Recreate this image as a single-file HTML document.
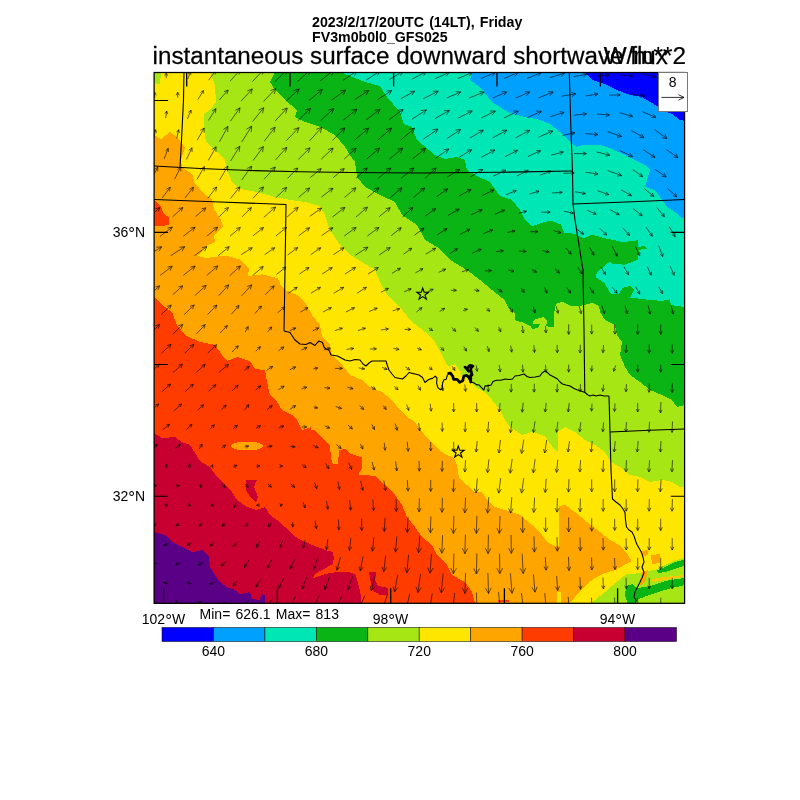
<!DOCTYPE html>
<html><head><meta charset="utf-8"><title>instantaneous surface downward shortwave flux</title>
<style>
html,body{margin:0;padding:0;background:#fff}
body{width:800px;height:800px;position:relative;overflow:hidden;font-family:"Liberation Sans",Arial,Helvetica,sans-serif;color:#000}
.t{position:absolute;white-space:nowrap;font-size:13.3px;line-height:1.15}
.b{font-weight:bold}
.c{transform:translateX(-50%)}
.r{text-align:right}
</style></head><body>
<svg width="800" height="800" viewBox="0 0 800 800" style="position:absolute;left:0;top:0">
<defs><clipPath id="fr"><rect x="154.1" y="72.5" width="530.5" height="530.8"/></clipPath></defs>
<g clip-path="url(#fr)" shape-rendering="crispEdges">
<rect x="154.1" y="72.5" width="530.5" height="530.8" fill="#0000ff"/>
<polygon fill="#00a0ff" points="584,40 584,72 592,80 607,85 617,90 630,95 642,97 650,102 659,107 665,111 672,114 680,120 685,121 720,122 720,640 120,640 120,40"/>
<polygon fill="#00e6b4" points="472,40 472,72 470,80 480,87 492,102 500,107 510,113 525,117 540,120 550,124 560,132 570,142 577,147 582,145 600,145 612,149 625,155 635,160 645,165 650,170 647,180 645,187 655,190 660,197 667,207 675,212 680,217 685,219 720,220 720,640 120,640 120,40"/>
<polygon fill="#0ab414" points="338,40 340,72 350,76 365,82 380,86 387,97 400,112 404,124 412,127 417,140 435,155 445,159 457,157 465,160 467,170 475,175 490,182 500,196 512,200 520,210 525,220 532,226 540,223.4 551,220.6 560.6,224.4 564.4,232.8 575.6,233.8 583,238.4 592.5,234.7 605.6,238.4 615,240.3 622.5,242.2 637.5,240.3 638.4,246.9 645,246 647,248.8 639.4,249.7 637.5,260 624.4,264.7 613,263.8 609.4,261.9 603.8,266.6 598,271.2 595.3,277 604,282.5 611,294 619,294 622.5,288 630,286 634,290 630,297.5 645,299.4 662,301 669.5,299.4 671,305 684.5,307 720,306 720,640 120,640 120,40"/>
<polygon fill="#a5e614" points="275,40 275,72 270,82 275,90 285,100 297,110 295,117 305,122 320,127 335,135 345,147 350,155 355,162 357,177 365,187 380,195 395,202 402,215 417,225 425,240 437,247 445,255 450,260 462,267 467,270 480,280 492,290 504.4,300 508,307.5 514.7,313 515.6,320.6 523,322.5 530.6,326.2 532.5,329 538,328 540,324.4 532.5,323.4 534.4,319.7 543.7,316.9 547.5,320.6 545.6,326.2 554,327.2 554,313 556,303.7 562.5,301.9 570,305.6 581.2,305.6 592.5,302.8 599,306 600,312 605,320 615,325 617,335 622,342 620,355 625,367 630,375 640,382 650,390 662,395 672,400 677,407 685,405 720,405 720,640 120,640 120,40"/>
<polygon fill="#ffe600" points="210,40 210,72 215,85 216,102 210,110 204,114 204,130 206,142 217,152 225,160 227,170 232,182 240,189 257,192 275,197 290,200 305,202 320,206 325,215 330,230 340,245 350,255 362,262 375,270 380,282 387,295 400,307 410,320 425,332 435,342 442,355 447,365 455,370 462,375 470,380 475,387 485,392 492,400 500,410 505,420 510,427 522,435 532,432 545,436 549,442 555,450 558,453 558.5,431 565,427 575,432 585,440 595,445 605,452 611,462 620,467 630,475 640,477 650,482 662,480 672,482 680,487 685,486 720,486 720,640 120,640 120,40"/>
<polygon fill="#ffa500" points="120,134 154,135 161,139 170,132 178,138 185,148 181,160 182,167 193,175 194,182 204,194 212,199 214,209 221,220 223,227 214,235 215,242 206,246 198,256 206,258 225,255.6 240,259.4 249.4,268.7 247.5,276 262.5,274.4 277.5,278 281,285.6 285,290 297,295 305,302 312,315 320,325 322,337 330,345 332,355 340,362 350,375 362,380 370,387 382,392 392,400 400,410 407,417 415,422 420,429 428,439 438,449 445,454 454,458 457,465 459,478 467,485 475,492 482,492 487,500 495,507 505,510 520,515 532,525 540,532 547,542 555,546 558.5,546 558.5,506 565,505 575,512 587,522 600,532 610,540 621,546 628,555 632,562 626,565 616,571 605,574 595,579 586,586 577,595 570,603 550,640 120,640"/>
<polygon fill="#ff3c00" points="120,297 154,297 162,305 172,312 177,325 185,335 200,342 215,345 222,355 227,361 237,357 250,361 255,369 265,370 267,382 270,395 277,402 282,410 292,415 297,420 302,430 312,427 320,436 330,446 331,458 333,464 337.5,464 339.4,450 345,449 350.6,453.7 362,457.5 362,468.7 358,474.4 375,476 385,485 395,495 402,505 407,517 415,527 422,537 432,545 437,555 447,565 452,575 465,582 472,592 475,603 476,640 120,640"/>
<polygon fill="#c80032" points="120,432 154,433 162,438 175,437 182,442 190,445 195,453 200,461 210,467 217,477 225,485 232,492 237,500 247,507 257,510 265,507 270,515 277,520 285,527 294,536 303,541 315,546 325.5,550 332.5,552 334,558.5 332.5,564 324,569 315,574 313,578 325.5,574 339.5,571.6 350,572.5 355,574 357,579.5 359,586.5 360.5,593.5 361.5,602 362,640 120,640"/>
<polygon fill="#5a0087" points="120,532 154,532 165,535 172,542 182,547 192,552 202,550 209,557 210,567 215,575 220,582 227,587 235,590 240,594 250,592 252,599 260,600 261,594 265,595 265,603 265,640 120,640"/>
<polygon fill="#ff3c00" points="140,200 154,200 160,205 164,214 169,217 169,225 160,226 140,226"/>
<ellipse cx="247" cy="446" rx="16" ry="4.5" fill="#ffa500"/>
<rect x="311" y="424" width="6" height="6" fill="#ffa500"/>
<polygon fill="#c80032" points="246,480 257,480 254,487 258,497 256,503 250,497 246,490"/>
<polygon fill="#c80032" points="369,572 376,572 375,580 378,586 388,588 388,595 380,595 372,590"/>
<polygon fill="#a5e614" points="153,72 161,72 160,84 156,84 154,78"/>
<polygon fill="#ffe600" points="570,604 577,594 586,585 595,578 605,573 616,570 626,564 632,561 640,563 640,604"/>
<polygon fill="#a5e614" points="590,604 605,592 618,581 626.5,574 633.5,574 644,572 656,569.5 665,565 675.5,560.5 690,556 690,604"/>
<polygon fill="#0ab414" points="626,586 632,584 637,588 651,586 665,581 690,577 690,584 672,588 658,592 644,597 637,600 636,604 628,604 625,596"/>
<polygon fill="#0ab414" points="656,571 665,567 675,562 690,558 690,564 674,569 665,572 658,573"/>
<polygon fill="#ffa500" points="641,551 648,550 648,555 644,556"/>
<polygon fill="#ffa500" points="651,555 660,554 660,563 652,564"/>
<polygon fill="#ffa500" points="642,572 648,570 646,580 641,586 639,584"/>
<polygon fill="#ffc800" points="652,579 665,577 683,575 683,577 665,580 653,582"/>
<polygon fill="#ffe600" points="450,366 455,364 461,372 458,375 452,372"/>
<rect x="498" y="600" width="11" height="2" fill="#ff3c00"/>
<rect x="557" y="592" width="4" height="12" fill="#ffe600"/>

</g>
<g clip-path="url(#fr)" fill="none" stroke="#000" stroke-width="1.1" stroke-linejoin="round">
<path d="M184.2 60L183.5 100L181.5 140L180 167.5"/>
<path d="M140 165.5L154 166L200 168.5L250 170.5L300 171.7L350 172.5L420 173L500 172.3L572.5 171"/>
<path d="M140 199L154 199.5L220 202L286 204.5L285.5 240L285 270L284 331"/>
<path d="M284 331L290 332.5L293 337L295 340L300 344L306 344.5L310 342.5L315 345.5L317 343L319 341L322.5 342.5L324 347L326 349L329 350L331 355L337.5 356L345 360L350 361L355 359.5L360 360L363 364L366 366L369 363L372 361L386 361L387.5 366L389 370L392 374L395 377.5L402.5 379L406 376L409 372.5L415 374L419 375L422.5 377.5L425 382.5L428 380L430 378.9L432.6 378.4L435.2 376.2L437 378L436.6 383.2L437.9 387.6L440.5 389.8L442.2 388.5L442.7 382.4L444 379.7L446.2 379.3L447.5 374.5"/>
<path d="M470.7 382L473.7 382.8L476.4 384.6L479 385L481.6 387.6L483.8 390.2L485.1 385.9L487.7 385.9L491.2 385L493 381.5L496.5 380.2L501 380.2L505 379L509 379.5L512.5 379L515 376L519 375.5L524 374L527 376.5L530 377.5L535 377L540 376L542 373L545 371L548 373L550 375L554 377L557.5 379L560 382L562.5 384L566 385L570 386L574 388.5L577.5 390L581 391L585 392.5L588 395L590 396L593 395L596 396L600 395L604 396L609 396"/>
<path stroke-width="2.8" d="M447.5 373.6L450.6 373.2L452.7 376.2L453.6 379.3L457.1 379.3L459.7 382.4L462.8 380.6L463.7 376.2L466.7 375.4L468.5 377.1L470.2 379.7L470.7 382L470.7 375.4L472 374.9L471.1 371L468.5 371L466.7 368.8L465 367.1L467.2 368.4L469.8 365.3L472.9 366.2L471.1 367.5L470.7 370.6"/>
<path d="M569 60L569.3 72L571 132L572.5 171L573 204L575 220L579 245L583 270L584 330L584.8 392.5"/>
<path d="M573 204L620 202.3L685 199.5L700 199"/>
<path d="M609 396L610 432L611 470L612.5 499L616 502L620 505L623 509L625 512.5L625.5 520L626.5 527L629 530L632 532L634 536L635 539L636 542L637 544.5L639 548L641 551.5L642 554L643 557L644 562L642 567L644 572.5L642 578L639.6 583L637 588L635 592L634 597L636 600L635.5 603L636 610"/>
<path d="M610 432L650 430.3L685 429L700 428.7"/>
<path stroke-width="1.15" stroke-linejoin="miter" d="M422.7 288.1L424.1 292.2L428.5 292.3L425.0 295.0L426.3 299.1L422.7 296.6L419.1 299.1L420.4 295.0L416.9 292.3L421.3 292.2Z"/>
<path stroke-width="1.15" stroke-linejoin="miter" d="M458.3 446.1L459.7 450.2L464.1 450.3L460.6 453.0L461.9 457.1L458.3 454.6L454.7 457.1L456.0 453.0L452.5 450.3L456.9 450.2Z"/>

</g>
<g clip-path="url(#fr)"><path d="M166.2 78.2L166.2 72.7M164.7 75.7L166.2 72.7L167.7 75.7M187.8 79.1L190.6 71.8M188.1 74.1L190.6 71.8L190.9 75.2M208.6 80.2L215.8 70.7M212.4 72.4L215.8 70.7L215.1 74.5M230.2 81.0L240.2 69.9M235.7 71.6L240.2 69.9L239.0 74.5M252.3 81.7L264.1 69.2M258.9 71.1L264.1 69.2L262.5 74.5M274.9 81.7L287.5 69.2M282.1 71.0L287.5 69.2L285.7 74.6M297.6 81.3L310.8 69.7M305.4 71.1L310.8 69.7L308.7 74.9M320.3 80.7L334.1 70.2M328.6 71.2L334.1 70.2L331.7 75.2M343.2 80.2L357.2 70.7M351.8 71.4L357.2 70.7L354.6 75.5M366.2 80.0L380.2 71.0M374.9 71.5L380.2 71.0L377.5 75.6M389.2 79.6L403.2 71.3M398.0 71.7L403.2 71.3L400.4 75.7M411.9 79.2L426.4 71.7M421.2 71.8L426.4 71.7L423.4 76.0M434.9 78.8L449.4 72.1M444.3 71.9L449.4 72.1L446.3 76.1M457.9 78.5L472.4 72.5M467.4 72.1L472.4 72.5L469.2 76.3M480.9 78.5L495.4 72.5M490.4 72.1L495.4 72.5L492.2 76.3M504.2 78.5L518.2 72.5M513.3 72.1L518.2 72.5L515.1 76.2M527.0 78.5L541.5 72.5M536.4 72.1L541.5 72.5L538.2 76.3M550.0 77.6L564.5 73.3M559.7 72.5L564.5 73.3L560.9 76.7M573.6 76.6L586.8 74.3M582.7 73.1L586.8 74.3L583.4 76.9M597.3 76.0L609.1 75.0M605.6 73.5L609.1 75.0L605.9 77.0M620.0 75.0L632.5 76.0M629.0 73.9L632.5 76.0L628.7 77.5M642.2 74.0L656.2 77.0M652.6 74.1L656.2 77.0L651.8 78.1M154.7 97.8L154.7 92.2M153.2 95.3L154.7 92.2L156.2 95.3M177.7 97.8L177.7 92.2M176.2 95.3L177.7 92.2L179.2 95.3M197.9 99.5L203.5 90.5M200.6 92.3L203.5 90.5L203.2 93.9M219.3 100.0L228.1 90.0M224.1 91.6L228.1 90.0L227.1 94.1M241.1 101.1L252.3 88.9M247.3 90.8L252.3 88.9L250.9 94.0M263.6 101.4L275.8 88.6M270.5 90.5L275.8 88.6L274.2 94.0M286.2 101.1L299.2 88.9M293.7 90.5L299.2 88.9L297.3 94.3M308.9 100.5L322.4 89.5M317.0 90.7L322.4 89.5L320.2 94.6M331.7 100.0L345.7 90.0M340.3 90.8L345.7 90.0L343.2 94.9M354.7 99.5L368.7 90.5M363.4 91.0L368.7 90.5L366.0 95.1M377.7 99.5L391.7 90.5M386.4 91.0L391.7 90.5L389.0 95.1M400.7 98.8L414.7 91.2M409.6 91.4L414.7 91.2L411.8 95.4M423.2 98.8L438.2 91.2M432.8 91.2L438.2 91.2L435.0 95.6M446.7 98.0L460.7 92.0M455.8 91.7L460.7 92.0L457.6 95.7M469.2 98.0L484.2 92.0M479.1 91.5L484.2 92.0L480.8 95.9M492.7 98.0L506.7 92.0M501.8 91.7L506.7 92.0L503.6 95.7M515.7 98.0L529.7 92.0M524.8 91.7L529.7 92.0L526.6 95.7M538.2 98.0L553.2 92.0M548.1 91.5L553.2 92.0L549.8 95.9M561.7 96.2L575.7 93.8M571.3 92.4L575.7 93.8L572.1 96.5M585.5 96.0L598.0 94.0M594.1 92.8L598.0 94.0L594.7 96.4M609.2 95.0L620.2 95.0M617.1 93.4L620.2 95.0L617.1 96.6M630.7 94.0L644.7 96.0M641.0 93.4L644.7 96.0L640.4 97.5M165.7 118.1L166.7 111.0M164.7 113.8L166.7 111.0L167.8 114.2M187.4 119.0L191.0 110.1M188.4 112.3L191.0 110.1L191.3 113.5M208.5 120.4L215.9 108.7M212.1 110.9L215.9 108.7L215.5 113.1M230.4 121.2L240.0 107.8M235.3 110.3L240.0 107.8L239.2 113.0M252.7 121.4L263.7 107.7M258.6 110.0L263.7 107.7L262.6 113.2M275.1 121.0L287.2 108.0M281.9 110.0L287.2 108.0L285.7 113.5M297.8 120.8L310.6 108.3M305.1 110.0L310.6 108.3L308.8 113.7M320.7 120.4L333.7 108.6M328.3 110.1L333.7 108.6L331.7 113.9M343.4 120.0L357.0 109.1M351.5 110.2L357.0 109.1L354.7 114.2M366.3 119.7L380.1 109.3M374.7 110.3L380.1 109.3L377.7 114.3M389.3 119.5L403.1 109.5M397.7 110.4L403.1 109.5L400.6 114.4M412.0 119.2L426.4 109.9M420.9 110.5L426.4 109.9L423.6 114.6M435.0 118.6L449.4 110.4M444.1 110.7L449.4 110.4L446.5 114.9M458.2 118.1L472.2 110.9M467.2 111.0L472.2 110.9L469.2 115.0M481.1 118.0L495.3 111.1M490.2 111.0L495.3 111.1L492.2 115.1M504.2 117.9L518.2 111.1M513.2 111.0L518.2 111.1L515.2 115.1M527.1 117.7L541.3 111.3M536.3 111.1L541.3 111.3L538.2 115.2M550.3 116.7L564.1 112.4M559.6 111.6L564.1 112.4L560.8 115.6M573.8 115.3L586.6 113.8M582.7 112.3L586.6 113.8L583.2 116.1M597.0 114.0L609.5 115.0M606.0 112.9L609.5 115.0L605.7 116.6M619.8 112.8L632.6 116.3M629.5 113.4L632.6 116.3L628.5 117.2M642.6 111.8L655.8 117.3M652.8 113.8L655.8 117.3L651.2 117.6M153.8 138.5L155.6 129.7M153.5 132.3L155.6 129.7L156.5 132.9M176.8 138.5L178.6 129.7M176.5 132.3L178.6 129.7L179.5 132.9M197.2 140.2L204.2 128.0M200.4 130.4L204.2 128.0L204.0 132.5M219.5 141.8L227.9 126.4M223.3 129.5L227.9 126.4L227.7 132.0M241.7 142.1L251.7 126.1M246.5 129.2L251.7 126.1L251.2 132.1M264.3 141.1L275.1 127.1M270.0 129.5L275.1 127.1L274.0 132.6M286.4 140.6L298.9 127.6M293.5 129.5L298.9 127.6L297.3 133.1M309.5 140.9L321.9 127.2M316.4 129.3L321.9 127.2L320.4 132.9M332.5 140.4L344.9 127.8M339.5 129.6L344.9 127.8L343.2 133.2M354.8 140.0L368.6 128.2M362.9 129.5L368.6 128.2L366.4 133.5M377.8 140.0L391.6 128.2M385.9 129.5L391.6 128.2L389.4 133.5M400.8 140.0L414.6 128.2M408.9 129.5L414.6 128.2L412.4 133.5M423.4 139.2L438.0 129.0M432.4 129.7L438.0 129.0L435.3 134.0M446.8 138.6L460.6 129.6M455.3 130.1L460.6 129.6L458.0 134.1M470.1 137.9L483.3 130.2M478.4 130.5L483.3 130.2L480.7 134.3M492.6 137.9L506.8 130.2M501.7 130.3L506.8 130.2L503.9 134.5M515.7 137.8L529.7 130.3M524.6 130.4L529.7 130.3L526.8 134.5M538.7 137.1L552.7 131.1M547.8 130.7L552.7 131.1L549.6 134.8M562.5 135.3L575.0 132.8M571.0 131.7L575.0 132.8L571.7 135.3M585.5 133.6L598.0 134.6M594.5 132.5L598.0 134.6L594.2 136.1M607.7 131.6L621.7 136.6M618.4 133.1L621.7 136.6L617.0 137.2M631.5 130.6L644.0 137.6M641.4 133.7L644.0 137.6L639.4 137.4M654.5 129.6L667.0 138.6M664.7 134.2L667.0 138.6L662.1 137.8M164.2 158.8L168.2 148.3M165.5 150.7L168.2 148.3L168.6 151.9M186.4 159.4L192.0 147.8M188.7 150.3L192.0 147.8L192.1 151.9M208.3 160.4L216.1 146.8M211.9 149.5L216.1 146.8L215.9 151.8M230.6 161.0L239.8 146.2M235.0 149.1L239.8 146.2L239.3 151.7M253.0 160.6L263.4 146.6M258.4 149.0L263.4 146.6L262.5 152.1M275.6 159.8L286.8 147.4M281.8 149.3L286.8 147.4L285.4 152.6M298.4 159.3L310.0 147.8M305.0 149.4L310.0 147.8L308.4 152.8M321.3 159.1L333.1 148.1M328.1 149.5L333.1 148.1L331.3 152.9M344.2 159.0L356.2 148.2M351.2 149.5L356.2 148.2L354.4 153.0M366.8 159.0L379.6 148.1M374.4 149.4L379.6 148.1L377.5 153.1M389.6 159.0L402.8 148.1M397.4 149.3L402.8 148.1L400.6 153.2M412.7 158.8L425.7 148.3M420.5 149.5L425.7 148.3L423.5 153.2M435.7 158.2L448.7 149.0M443.6 149.7L448.7 149.0L446.3 153.5M458.7 157.6L471.7 149.6M466.8 150.0L471.7 149.6L469.1 153.8M481.6 157.2L494.8 150.0M490.0 150.1L494.8 150.0L492.1 153.9M504.7 156.9L517.7 150.3M513.0 150.3L517.7 150.3L515.0 154.0M528.0 156.5L540.5 150.7M536.1 150.5L540.5 150.7L537.7 154.2M551.1 155.2L563.3 152.0M559.3 151.1L563.3 152.0L560.3 154.7M574.1 153.6L586.3 153.6M582.8 151.8L586.3 153.6L582.8 155.4M596.6 152.0L609.8 155.2M606.5 152.4L609.8 155.2L605.6 156.2M619.9 150.6L632.5 156.6M629.8 153.0L632.5 156.6L628.0 156.7M643.5 149.8L655.0 157.4M652.8 153.6L655.0 157.4L650.6 156.9M666.3 149.5L678.1 157.7M675.9 153.7L678.1 157.7L673.5 157.1M151.6 179.2L157.8 167.0M154.3 169.6L157.8 167.0L157.8 171.4M174.6 179.2L180.8 167.0M177.3 169.6L180.8 167.0L180.8 171.4M196.9 179.6L204.4 166.6M200.4 169.2L204.4 166.6L204.2 171.4M219.5 180.1L227.9 166.1M223.5 168.9L227.9 166.1L227.5 171.3M241.7 180.1L251.7 166.1M246.8 168.7L251.7 166.1L250.9 171.6M264.1 179.2L275.3 167.0M270.3 168.9L275.3 167.0L273.9 172.1M287.6 178.3L297.8 168.0M293.4 169.4L297.8 168.0L296.4 172.4M310.2 177.6L321.2 168.6M316.8 169.6L321.2 168.6L319.4 172.8M333.2 177.6L344.2 168.6M339.8 169.6L344.2 168.6L342.4 172.8M356.2 178.1L367.2 168.1M362.6 169.4L367.2 168.1L365.5 172.6M378.4 178.1L390.9 168.1M385.9 169.2L390.9 168.1L388.8 172.8M401.4 178.1L413.9 168.1M408.9 169.2L413.9 168.1L411.8 172.8M425.2 178.1L436.2 168.1M431.6 169.4L436.2 168.1L434.5 172.6M447.4 176.9L459.9 169.4M455.3 169.7L459.9 169.4L457.5 173.3M470.4 176.9L482.9 169.4M478.3 169.7L482.9 169.4L480.5 173.3M493.4 176.1L505.9 170.1M501.5 170.0L505.9 170.1L503.3 173.6M517.2 175.9L528.2 170.4M524.3 170.3L528.2 170.4L525.9 173.5M540.2 175.1L551.2 171.1M547.5 170.7L551.2 171.1L548.6 173.9M563.2 173.4L574.2 172.9M571.0 171.4L574.2 172.9L571.1 174.6M585.5 172.1L598.0 174.1M594.7 171.7L598.0 174.1L594.1 175.4M607.7 170.6L621.7 175.6M618.4 172.2L621.7 175.6L617.0 176.2M632.7 169.6L642.7 176.6M640.9 173.2L642.7 176.6L638.8 176.1M655.2 169.4L666.2 176.9M664.2 173.1L666.2 176.9L662.0 176.3M162.1 198.1L170.3 187.2M166.4 189.1L170.3 187.2L169.5 191.5M184.9 198.1L193.5 187.2M189.5 189.1L193.5 187.2L192.6 191.6M207.8 198.3L216.6 187.0M212.5 188.9L216.6 187.0L215.8 191.5M230.5 198.5L239.8 186.8M235.5 188.8L239.8 186.8L238.9 191.5M252.9 198.4L263.5 186.9M258.8 188.6L263.5 186.9L262.1 191.7M275.7 197.9L286.7 187.4M282.0 188.8L286.7 187.4L285.1 192.0M298.7 197.3L309.7 188.0M305.2 189.1L309.7 188.0L307.9 192.3M321.4 197.1L333.0 188.2M328.4 189.0L333.0 188.2L331.0 192.4M344.5 197.5L355.9 187.8M351.3 188.9L355.9 187.8L354.1 192.2M367.4 197.5L378.9 187.8M374.3 188.9L378.9 187.8L377.1 192.2M390.4 197.5L402.0 187.8M397.3 188.9L402.0 187.8L400.1 192.3M413.7 197.3L424.7 188.0M420.2 189.1L424.7 188.0L422.9 192.3M436.6 196.6L447.8 188.8M443.5 189.4L447.8 188.8L445.7 192.6M459.3 195.9L471.1 189.4M466.8 189.5L471.1 189.4L468.7 192.9M482.5 195.5L493.9 189.8M489.8 189.8L493.9 189.8L491.5 193.1M506.1 194.8L516.3 190.5M512.7 190.2L516.3 190.5L514.0 193.2M529.4 194.1L539.0 191.2M535.7 190.6L539.0 191.2L536.6 193.6M552.2 193.0L562.2 192.3M559.1 191.0L562.2 192.3L559.3 194.1M575.0 191.7L585.4 193.6M582.7 191.5L585.4 193.6L582.1 194.6M597.6 190.7L608.8 194.7M606.2 191.9L608.8 194.7L605.0 195.1M621.0 189.7L631.5 195.7M629.3 192.4L631.5 195.7L627.6 195.5M644.5 188.8L653.9 196.5M652.3 192.9L653.9 196.5L650.1 195.7M667.6 188.5L676.8 196.8M675.4 193.1L676.8 196.8L673.0 195.8M149.5 216.9L159.8 207.5M155.5 208.7L159.8 207.5L158.3 211.7M172.5 216.9L182.8 207.5M178.5 208.7L182.8 207.5L181.3 211.7M195.5 216.6L205.8 207.8M201.6 208.8L205.8 207.8L204.2 211.8M219.0 216.9L228.4 207.5M224.4 208.8L228.4 207.5L227.1 211.5M242.0 216.9L251.4 207.5M247.4 208.8L251.4 207.5L250.1 211.5M263.8 217.3L275.6 207.0M270.7 208.3L275.6 207.0L273.7 211.7M287.2 216.9L298.2 207.4M293.7 208.5L298.2 207.4L296.4 211.7M309.8 216.3L321.6 208.1M317.0 208.7L321.6 208.1L319.4 212.1M332.5 217.0L344.9 207.4M340.0 208.3L344.9 207.4L342.8 211.9M355.9 217.1L367.4 207.2M362.7 208.4L367.4 207.2L365.6 211.7M379.2 216.7L390.2 207.7M385.8 208.6L390.2 207.7L388.4 211.8M402.6 217.0L412.8 207.4M408.5 208.6L412.8 207.4L411.3 211.6M425.6 215.9L435.8 208.5M431.8 209.1L435.8 208.5L434.0 212.1M448.2 215.3L459.2 209.0M455.1 209.2L459.2 209.0L457.0 212.4M471.2 214.7L482.2 209.7M478.3 209.5L482.2 209.7L479.8 212.7M494.9 214.2L504.5 210.1M501.1 209.9L504.5 210.1L502.3 212.7M519.0 213.2L526.5 211.2M523.1 210.5L526.5 211.2L523.9 213.5M541.2 212.2L550.2 212.2M547.2 210.6L550.2 212.2L547.2 213.7M564.2 211.2L573.2 213.2M570.6 211.0L573.2 213.2L569.9 214.0M587.2 210.2L596.2 214.2M594.1 211.5L596.2 214.2L592.8 214.4M610.2 209.7L619.2 214.7M617.3 211.9L619.2 214.7L615.8 214.6M633.2 208.7L642.2 215.7M640.7 212.4L642.2 215.7L638.6 215.0M656.9 207.7L664.5 216.7M663.6 213.0L664.5 216.7L661.0 215.2M160.1 236.3L172.3 227.1M167.5 228.0L172.3 227.1L170.1 231.5M183.3 236.2L195.1 227.2M190.4 228.1L195.1 227.2L193.0 231.5M206.8 236.2L217.6 227.2M213.2 228.2L217.6 227.2L215.8 231.3M230.1 236.1L240.3 227.4M236.1 228.4L240.3 227.4L238.7 231.3M252.9 235.9L263.5 227.5M259.2 228.4L263.5 227.5L261.7 231.4M275.8 236.0L286.6 227.4M282.3 228.3L286.6 227.4L284.7 231.4M298.8 235.7L309.6 227.7M305.3 228.4L309.6 227.7L307.7 231.5M321.6 235.7L332.8 227.7M328.4 228.4L332.8 227.7L330.8 231.6M344.3 236.0L356.1 227.4M351.5 228.2L356.1 227.4L354.0 231.6M367.4 236.0L378.9 227.4M374.4 228.2L378.9 227.4L376.9 231.5M391.2 235.7L401.2 227.7M397.2 228.5L401.2 227.7L399.5 231.4M414.4 235.3L424.0 228.1M420.2 228.8L424.0 228.1L422.3 231.5M437.4 234.8L447.0 228.6M443.4 229.0L447.0 228.6L445.2 231.8M460.4 234.2L470.0 229.2M466.5 229.2L470.0 229.2L468.0 232.0M483.6 233.5L492.8 229.9M489.5 229.6L492.8 229.9L490.6 232.5M507.2 232.5L515.1 230.9M511.9 230.0L515.1 230.9L512.5 233.0M530.4 231.7L538.0 231.7M535.0 230.2L538.0 231.7L535.0 233.3M553.5 230.5L561.0 232.9M558.5 230.5L561.0 232.9L557.6 233.5M576.8 229.2L583.6 234.2M582.1 231.2L583.6 234.2L580.3 233.7M599.8 228.3L606.6 235.1M605.6 231.9L606.6 235.1L603.4 234.1M622.8 227.8L629.6 235.6M628.7 232.3L629.6 235.6L626.4 234.3M646.1 227.2L652.3 236.2M651.8 232.8L652.3 236.2L649.2 234.5M669.3 226.7L675.1 236.7M674.9 233.0L675.1 236.7L672.0 234.7M147.7 255.7L161.7 246.7M156.4 247.3L161.7 246.7L159.0 251.3M170.7 255.7L184.7 246.7M179.4 247.3L184.7 246.7L182.0 251.3M194.4 255.7L206.9 246.7M202.1 247.5L206.9 246.7L204.7 251.1M218.2 255.7L229.2 246.7M224.8 247.7L229.2 246.7L227.4 250.9M241.2 254.7L252.2 247.7M248.0 248.1L252.2 247.7L250.1 251.3M264.7 254.7L274.7 247.7M270.8 248.3L274.7 247.7L272.9 251.2M287.7 255.0L297.7 247.5M293.8 248.2L297.7 247.5L295.9 251.1M310.7 254.7L320.7 247.7M316.8 248.3L320.7 247.7L318.9 251.2M333.4 254.7L343.9 247.7M339.9 248.2L343.9 247.7L342.0 251.3M355.4 255.2L367.9 247.2M363.2 247.7L367.9 247.2L365.5 251.3M379.2 255.0L390.2 247.5M386.0 248.0L390.2 247.5L388.2 251.2M403.7 254.2L411.7 248.2M408.4 248.8L411.7 248.2L410.2 251.3M425.7 254.2L435.7 248.2M432.0 248.5L435.7 248.2L433.7 251.4M449.9 253.7L457.4 248.7M454.1 249.1L457.4 248.7L455.8 251.7M472.2 253.2L481.2 249.2M477.8 249.1L481.2 249.2L479.1 251.9M495.9 251.7L503.4 250.7M500.2 249.6L503.4 250.7L500.7 252.7M519.2 251.0L526.2 251.5M523.3 249.7L526.2 251.5L523.1 252.8M542.2 250.5L549.2 252.0M546.6 249.8L549.2 252.0L545.9 252.9M566.2 248.2L571.2 254.2M570.4 250.9L571.2 254.2L568.1 252.9M589.5 247.2L594.0 255.2M593.8 251.8L594.0 255.2L591.1 253.4M612.2 246.2L617.2 256.2M617.2 252.7L617.2 256.2L614.3 254.1M635.7 246.7L639.7 255.7M639.9 252.3L639.7 255.7L637.1 253.6M658.7 245.7L662.7 256.7M663.2 253.0L662.7 256.7L660.0 254.2M160.2 275.3L172.2 266.3M167.5 267.1L172.2 266.3L170.1 270.6M183.3 275.4L195.1 266.1M190.4 267.1L195.1 266.1L193.1 270.5M206.6 275.6L217.8 265.9M213.2 267.1L217.8 265.9L216.0 270.3M229.9 275.5L240.4 266.0M236.1 267.2L240.4 266.0L238.8 270.3M253.2 275.0L263.2 266.5M259.1 267.5L263.2 266.5L261.6 270.4M276.4 274.5L285.9 267.1M282.2 267.8L285.9 267.1L284.3 270.6M299.4 274.1L309.0 267.5M305.3 267.9L309.0 267.5L307.2 270.7M322.2 274.0L332.2 267.5M328.4 267.9L332.2 267.5L330.3 270.8M344.9 274.1L355.5 267.4M351.5 267.8L355.5 267.4L353.5 270.9M368.1 274.0L378.3 267.6M374.4 267.9L378.3 267.6L376.3 270.9M392.0 273.3L400.4 268.2M397.0 268.5L400.4 268.2L398.6 271.1M415.4 272.9L422.9 268.6M419.6 268.8L422.9 268.6L421.1 271.5M438.7 272.4L445.7 269.1M442.3 269.0L445.7 269.1L443.6 271.8M461.8 271.8L468.6 269.8M465.2 269.2L468.6 269.8L466.1 272.1M484.9 270.9L491.5 270.6M488.4 269.2L491.5 270.6L488.5 272.3M508.4 269.9L514.0 271.6M511.6 269.3L514.0 271.6L510.7 272.2M531.8 269.3L536.6 272.3M534.9 269.4L536.6 272.3L533.2 272.0M554.9 268.5L559.5 273.1M558.5 269.8L559.5 273.1L556.3 272.0M578.0 267.6L582.4 274.0M581.9 270.6L582.4 274.0L579.4 272.3M600.9 267.0L605.5 274.5M605.2 271.1L605.5 274.5L602.6 272.8M624.0 266.7L628.5 274.8M628.3 271.4L628.5 274.8L625.6 272.9M647.2 266.5L651.2 275.1M651.3 271.7L651.2 275.1L648.5 273.0M670.2 266.3L674.2 275.3M674.4 271.9L674.2 275.3L671.6 273.1M149.7 294.8L159.7 285.8M155.5 286.9L159.7 285.8L158.2 289.8M172.7 294.8L182.7 285.8M178.5 286.9L182.7 285.8L181.2 289.8M195.2 295.3L206.2 285.3M201.6 286.6L206.2 285.3L204.5 289.7M218.7 295.8L228.7 284.8M224.3 286.5L228.7 284.8L227.4 289.4M241.7 295.8L251.7 284.8M247.3 286.5L251.7 284.8L250.4 289.4M265.2 294.8L274.2 285.8M270.3 287.1L274.2 285.8L272.9 289.7M288.2 293.3L297.2 287.3M293.8 287.7L297.2 287.3L295.5 290.3M310.9 293.3L320.4 287.3M316.9 287.6L320.4 287.3L318.6 290.4M333.7 293.3L343.7 287.3M340.0 287.6L343.7 287.3L341.7 290.5M356.9 293.3L366.4 287.3M362.9 287.6L366.4 287.3L364.6 290.4M380.9 292.3L388.4 288.3M385.1 288.4L388.4 288.3L386.5 291.1M404.2 291.8L411.2 288.8M407.8 288.6L411.2 288.8L409.0 291.4M428.2 291.3L433.2 289.3M429.8 289.0L433.2 289.3L431.0 291.9M450.9 290.3L456.4 290.3M453.4 288.8L456.4 290.3L453.4 291.8M474.2 289.8L479.2 290.8M476.5 288.7L479.2 290.8L475.9 291.7M497.2 288.8L502.2 291.8M500.4 288.9L502.2 291.8L498.8 291.6M521.2 288.1L524.2 292.6M523.8 289.2L524.2 292.6L521.2 290.9M544.5 287.6L547.0 293.1M547.1 289.7L547.0 293.1L544.3 290.9M566.7 287.6L570.7 293.1M570.2 289.7L570.7 293.1L567.7 291.5M589.7 287.3L593.7 293.3M593.3 289.9L593.7 293.3L590.7 291.6M612.2 287.3L617.2 293.3M616.4 290.0L617.2 293.3L614.1 292.0M635.7 286.6L639.7 294.1M639.6 290.7L639.7 294.1L636.9 292.1M658.7 286.8L662.7 293.8M662.5 290.4L662.7 293.8L659.9 291.9M161.2 314.6L171.2 305.1M167.0 306.3L171.2 305.1L169.7 309.2M184.2 314.6L194.2 305.0M190.0 306.3L194.2 305.0L192.7 309.2M207.5 314.6L216.9 305.1M212.8 306.4L216.9 305.1L215.6 309.2M231.4 314.2L239.0 305.5M235.6 306.8L239.0 305.5L238.1 309.1M254.9 313.6L261.4 306.0M258.3 307.3L261.4 306.0L260.7 309.3M277.7 312.7L284.7 307.0M281.4 307.7L284.7 307.0L283.3 310.1M300.4 312.1L308.0 307.6M304.6 307.8L308.0 307.6L306.2 310.4M323.1 312.0L331.3 307.6M327.9 307.7L331.3 307.6L329.4 310.4M345.9 312.0L354.5 307.7M351.1 307.7L354.5 307.7L352.5 310.4M369.2 311.5L377.2 308.1M373.8 307.9L377.2 308.1L375.0 310.7M392.7 310.8L399.7 308.8M396.4 308.2L399.7 308.8L397.2 311.1M416.4 312.0L422.0 307.6M418.7 308.3L422.0 307.6L420.6 310.7M439.7 311.4L444.7 308.3M441.3 308.6L444.7 308.3L442.9 311.2M463.0 310.6L467.4 309.1M464.0 308.6L467.4 309.1L465.0 311.5M486.6 308.4L489.8 311.3M488.6 308.1L489.8 311.3L486.5 310.3M509.9 307.4L512.5 312.3M512.4 308.9L512.5 312.3L509.7 310.4M533.4 306.8L535.0 312.9M535.7 309.5L535.0 312.9L532.7 310.3M556.3 306.3L558.1 313.3M558.8 310.0L558.1 313.3L555.8 310.8M579.2 306.0L581.2 313.7M581.9 310.4L581.2 313.7L578.9 311.2M602.0 306.0L604.4 313.7M605.0 310.4L604.4 313.7L602.0 311.3M625.0 305.7L627.4 314.0M628.0 310.6L627.4 314.0L625.1 311.5M648.2 305.5L650.2 314.1M651.0 310.8L650.2 314.1L648.0 311.5M671.2 305.6L673.2 314.1M674.0 310.8L673.2 314.1L671.0 311.5M149.7 334.4L159.7 324.4M155.4 325.8L159.7 324.4L158.3 328.7M172.7 334.4L182.7 324.4M178.4 325.8L182.7 324.4L181.3 328.7M196.2 334.1L205.2 324.6M201.3 326.0L205.2 324.6L204.0 328.6M219.9 333.1L227.4 325.6M224.2 326.7L227.4 325.6L226.4 328.8M245.2 332.1L248.2 326.6M245.4 328.5L248.2 326.6L248.1 330.0M267.7 331.9L271.7 326.9M268.6 328.3L271.7 326.9L271.0 330.2M289.7 330.9L295.7 327.9M292.3 327.8L295.7 327.9L293.7 330.6M312.7 330.9L318.7 327.9M315.3 327.8L318.7 327.9L316.7 330.6M334.9 330.6L342.4 328.1M339.1 327.6L342.4 328.1L340.1 330.5M357.9 330.6L365.4 328.1M362.1 327.6L365.4 328.1L363.1 330.5M380.9 329.9L388.4 328.9M385.2 327.7L388.4 328.9L385.7 330.8M404.7 329.4L410.7 329.4M407.7 327.8L410.7 329.4L407.7 330.9M428.7 328.1L432.7 330.6M430.9 327.7L432.7 330.6L429.3 330.3M451.7 327.4L455.7 331.4M454.6 328.1L455.7 331.4L452.5 330.3M474.9 327.4L478.4 331.4M477.6 328.1L478.4 331.4L475.3 330.1M498.7 326.9L500.7 331.9M501.0 328.5L500.7 331.9L498.1 329.6M522.4 325.8L523.1 333.0M524.3 329.8L523.1 333.0L521.2 330.1M545.5 325.9L546.0 332.9M547.3 329.7L546.0 332.9L544.2 329.9M568.7 324.4L568.7 334.4M570.2 331.3L568.7 334.4L567.2 331.3M591.7 324.6L591.7 334.1M593.2 331.1L591.7 334.1L590.2 331.1M614.5 324.6L615.0 334.1M616.3 331.0L615.0 334.1L613.2 331.2M637.7 324.4L637.7 334.4M639.2 331.3L637.7 334.4L636.2 331.3M660.7 324.4L660.7 334.4M662.2 331.3L660.7 334.4L659.2 331.3M161.3 353.5L171.1 344.3M167.0 345.5L171.1 344.3L169.6 348.3M184.5 353.4L193.9 344.4M189.9 345.6L193.9 344.4L192.5 348.3M207.8 353.0L216.6 344.8M212.9 345.8L216.6 344.8L215.3 348.4M232.1 352.0L238.3 345.8M235.1 346.8L238.3 345.8L237.3 349.0M255.9 351.2L260.4 346.6M257.2 347.7L260.4 346.6L259.4 349.8M278.4 350.8L283.9 347.0M280.6 347.4L283.9 347.0L282.3 350.0M301.4 350.1L307.0 347.6M303.6 347.5L307.0 347.6L304.9 350.3M324.0 349.7L330.4 348.1M327.1 347.3L330.4 348.1L327.8 350.3M346.6 349.4L353.8 348.4M350.5 347.3L353.8 348.4L351.0 350.3M369.9 349.0L376.4 348.8M373.4 347.3L376.4 348.8L373.5 350.4M393.3 348.4L399.1 349.4M396.4 347.4L399.1 349.4L395.8 350.4M417.0 347.9L421.4 349.9M419.3 347.2L421.4 349.9L418.0 350.0M440.5 347.3L443.9 350.5M442.8 347.3L443.9 350.5L440.6 349.5M463.8 346.6L466.6 351.1M466.3 347.8L466.6 351.1L463.7 349.4M487.3 346.1L489.1 351.6M489.6 348.3L489.1 351.6L486.7 349.3M510.7 345.6L511.7 352.2M512.8 349.0L511.7 352.2L509.7 349.5M533.9 345.2L534.5 352.5M535.8 349.4L534.5 352.5L532.7 349.6M557.1 344.9L557.3 352.9M558.8 349.8L557.3 352.9L555.7 349.9M580.3 344.8L580.1 353.0M581.7 350.0L580.1 353.0L578.6 350.0M603.5 345.0L603.0 352.8M604.7 349.8L603.0 352.8L601.6 349.6M626.4 344.8L626.0 353.0M627.7 350.1L626.0 353.0L624.6 349.9M649.2 344.5L649.2 353.3M650.7 350.2L649.2 353.3L647.7 350.2M672.2 344.5L672.2 353.3M673.7 350.2L672.2 353.3L670.7 350.2M149.9 372.7L159.4 364.2M155.5 365.2L159.4 364.2L158.0 368.0M172.9 372.7L182.4 364.2M178.5 365.2L182.4 364.2L181.0 368.0M196.2 372.4L205.2 364.4M201.5 365.4L205.2 364.4L203.8 368.0M218.9 372.4L228.4 364.4M224.6 365.3L228.4 364.4L226.9 368.1M244.2 370.4L249.2 366.4M245.9 367.1L249.2 366.4L247.8 369.5M266.7 370.4L272.7 366.4M269.3 366.8L272.7 366.4L271.0 369.4M289.7 369.9L295.7 366.9M292.3 366.9L295.7 366.9L293.7 369.7M313.4 368.9L317.9 367.9M314.7 367.1L317.9 367.9L315.3 370.1M334.9 368.4L342.4 368.4M339.4 366.9L342.4 368.4L339.4 370.0M358.7 367.9L364.7 368.9M362.0 366.9L364.7 368.9L361.5 369.9M382.2 367.4L387.2 369.4M385.0 366.9L387.2 369.4L383.8 369.7M405.4 366.9L409.9 369.9M408.3 367.0L409.9 369.9L406.6 369.5M429.2 367.2L432.2 369.7M430.9 366.5L432.2 369.7L428.9 368.9M452.4 366.4L454.9 370.4M454.7 367.0L454.9 370.4L452.0 368.7M476.2 365.4L477.2 371.4M478.2 368.2L477.2 371.4L475.2 368.7M499.2 364.9L500.2 371.9M501.3 368.7L500.2 371.9L498.2 369.1M522.5 364.7L523.0 372.2M524.3 369.0L523.0 372.2L521.2 369.2M545.5 364.7L546.0 372.2M547.3 369.0L546.0 372.2L544.2 369.2M568.7 364.7L568.7 372.2M570.2 369.1L568.7 372.2L567.2 369.1M592.0 365.4L591.5 371.4M593.2 368.5L591.5 371.4L590.2 368.3M615.7 365.4L613.7 371.4M616.1 369.0L613.7 371.4L613.2 368.1M637.7 364.7L637.7 372.2M639.2 369.1L637.7 372.2L636.2 369.1M660.7 364.7L660.7 372.2M662.2 369.1L660.7 372.2L659.2 369.1M161.8 391.8L170.6 384.1M167.0 385.0L170.6 384.1L169.2 387.6M185.1 391.6L193.3 384.3M189.9 385.2L193.3 384.3L192.0 387.6M208.5 391.2L215.9 384.7M212.6 385.5L215.9 384.7L214.6 387.9M232.2 390.7L238.2 385.2M234.9 386.1L238.2 385.2L237.0 388.4M255.6 390.1L260.8 385.8M257.5 386.6L260.8 385.8L259.5 388.9M278.3 389.8L284.1 386.1M280.7 386.4L284.1 386.1L282.4 389.0M301.6 388.8L306.8 387.1M303.4 386.6L306.8 387.1L304.4 389.5M324.4 387.7L329.9 388.2M327.1 386.4L329.9 388.2L326.8 389.5M347.3 387.1L353.1 388.8M350.7 386.5L353.1 388.8L349.8 389.4M370.9 386.6L375.4 389.3M373.7 386.4L375.4 389.3L372.1 389.1M394.4 386.1L398.0 389.8M397.0 386.6L398.0 389.8L394.8 388.7M417.9 385.6L420.5 390.3M420.4 386.9L420.5 390.3L417.7 388.4M441.4 385.1L443.0 390.8M443.7 387.5L443.0 390.8L440.7 388.3M464.8 384.5L465.6 391.5M466.8 388.3L465.6 391.5L463.7 388.6M488.1 384.1L488.3 391.8M489.8 388.7L488.3 391.8L486.7 388.8M511.3 383.8L511.1 392.1M512.7 389.1L511.1 392.1L509.6 389.0M534.3 383.8L534.1 392.1M535.7 389.2L534.1 392.1L532.6 389.1M557.4 383.8L557.0 392.1M558.7 389.1L557.0 392.1L555.6 389.0M580.5 384.2L580.0 391.7M581.7 388.8L580.0 391.7L578.6 388.6M603.6 384.5L602.8 391.4M604.7 388.6L602.8 391.4L601.6 388.2M626.5 384.1L625.9 391.8M627.7 388.9L625.9 391.8L624.6 388.6M649.3 383.6L649.1 392.3M650.7 389.3L649.1 392.3L647.6 389.3M672.3 383.3L672.1 392.6M673.7 389.6L672.1 392.6L670.6 389.5M150.7 411.0L158.7 404.0M155.4 404.8L158.7 404.0L157.4 407.1M173.7 411.0L181.7 404.0M178.4 404.8L181.7 404.0L180.4 407.1M197.7 410.2L203.7 404.7M200.4 405.6L203.7 404.7L202.5 407.9M221.2 409.7L226.2 405.2M222.9 406.1L226.2 405.2L225.0 408.4M244.4 410.2L248.9 404.7M245.8 406.1L248.9 404.7L248.2 408.1M267.2 409.5L272.2 405.5M268.9 406.2L272.2 405.5L270.8 408.6M289.7 409.5L295.7 405.5M292.3 405.9L295.7 405.5L294.0 408.4M313.7 407.0L317.7 408.0M315.1 405.7L317.7 408.0L314.4 408.7M335.7 406.5L341.7 408.5M339.3 406.1L341.7 408.5L338.3 409.0M359.7 405.5L363.7 409.5M362.6 406.2L363.7 409.5L360.5 408.4M383.2 405.5L386.2 409.5M385.6 406.1L386.2 409.5L383.1 408.0M406.7 404.5L408.7 410.5M409.2 407.1L408.7 410.5L406.3 408.1M430.2 403.7L431.2 411.2M432.3 408.0L431.2 411.2L429.3 408.4M453.7 403.0L453.7 412.0M455.2 409.0L453.7 412.0L452.2 409.0M476.7 403.0L476.7 412.0M478.2 409.0L476.7 412.0L475.2 409.0M500.2 403.0L499.2 412.0M501.1 409.1L499.2 412.0L498.0 408.8M523.2 402.7L522.2 412.2M524.1 409.4L522.2 412.2L521.0 409.1M546.2 403.0L545.2 412.0M547.1 409.1L545.2 412.0L544.0 408.8M569.2 403.0L568.2 412.0M570.1 409.1L568.2 412.0L567.0 408.8M592.0 403.7L591.5 411.2M593.2 408.3L591.5 411.2L590.1 408.1M615.0 403.5L614.5 411.5M616.2 408.6L614.5 411.5L613.1 408.4M637.7 403.0L637.7 412.0M639.2 409.0L637.7 412.0L636.2 409.0M660.9 402.0L660.5 413.0M662.2 409.9L660.5 413.0L659.0 409.8M162.8 429.8L169.6 424.3M166.3 425.0L169.6 424.3L168.2 427.4M186.4 429.7L192.0 424.3M188.8 425.3L192.0 424.3L190.9 427.5M209.9 429.3L214.4 424.8M211.2 425.8L214.4 424.8L213.4 428.0M233.0 428.8L237.4 425.3M234.1 425.9L237.4 425.3L236.0 428.4M255.9 428.4L260.5 425.6M257.1 425.9L260.5 425.6L258.8 428.5M278.6 428.1L283.8 425.9M280.4 425.7L283.8 425.9L281.6 428.5M301.7 427.0L306.7 427.0M303.7 425.5L306.7 427.0L303.7 428.6M324.7 425.8L329.7 428.2M327.6 425.5L329.7 428.2L326.3 428.3M348.0 425.1L352.4 428.9M351.1 425.7L352.4 428.9L349.1 428.1M371.9 424.4L374.5 429.6M374.5 426.2L374.5 429.6L371.8 427.6M395.3 423.6L397.1 430.4M397.8 427.1L397.1 430.4L394.8 427.8M418.7 423.0L419.7 431.0M420.9 427.8L419.7 431.0L417.8 428.2M442.1 422.6L442.3 431.4M443.8 428.3L442.3 431.4L440.7 428.4M465.3 422.2L465.1 431.8M466.7 428.8L465.1 431.8L463.6 428.8M488.6 421.8L487.8 432.3M489.6 429.4L487.8 432.3L486.5 429.1M511.9 421.3L510.5 432.7M512.5 429.7L510.5 432.7L509.2 429.2M535.0 421.3L533.4 432.7M535.5 429.7L533.4 432.7L532.2 429.2M557.9 421.8L556.5 432.3M558.4 429.5L556.5 432.3L555.4 429.1M580.7 422.2L579.7 431.8M581.5 429.0L579.7 431.8L578.5 428.6M603.6 422.3L602.8 431.7M604.6 428.8L602.8 431.7L601.5 428.6M626.5 422.1L625.9 431.9M627.6 429.0L625.9 431.9L624.5 428.8M649.5 421.8L649.0 432.3M650.6 429.3L649.0 432.3L647.6 429.2M672.5 421.5L672.0 432.5M673.7 429.4L672.0 432.5L670.5 429.3M151.9 448.5L157.4 444.5M154.1 445.1L157.4 444.5L155.9 447.6M174.9 448.5L180.4 444.5M177.1 445.1L180.4 444.5L178.9 447.6M199.2 449.0L202.2 444.0M199.3 445.8L202.2 444.0L202.0 447.4M221.7 448.0L225.7 445.0M222.4 445.6L225.7 445.0L224.2 448.1M244.7 447.0L248.7 446.0M245.4 445.3L248.7 446.0L246.1 448.3M267.2 447.0L272.2 446.0M268.9 445.1L272.2 446.0L269.5 448.1M290.2 446.3L295.2 446.8M292.3 445.0L295.2 446.8L292.0 448.0M313.2 445.3L318.2 447.8M316.2 445.1L318.2 447.8L314.8 447.8M336.2 444.5L341.2 448.5M339.8 445.4L341.2 448.5L337.9 447.9M360.4 444.0L362.9 449.0M363.0 445.6L362.9 449.0L360.2 447.0M384.2 442.8L385.2 450.3M386.3 447.1L385.2 450.3L383.3 447.5M407.2 441.8L408.2 451.3M409.4 448.1L408.2 451.3L406.3 448.4M430.7 442.0L430.7 451.0M432.2 448.0L430.7 451.0L429.2 448.0M453.7 441.8L453.7 451.3M455.2 448.3L453.7 451.3L452.2 448.3M477.2 441.0L476.2 452.0M478.1 449.0L476.2 452.0L474.9 448.8M500.4 440.0L498.9 453.0M501.3 449.6L498.9 453.0L497.5 449.1M523.8 439.5L521.6 453.5M524.3 449.9L521.6 453.5L520.2 449.2M546.7 440.0L544.7 453.0M547.2 449.6L544.7 453.0L543.4 449.0M569.5 441.0L568.0 452.0M570.0 449.1L568.0 452.0L566.8 448.7M592.2 441.0L591.2 452.0M593.1 449.0L591.2 452.0L589.9 448.8M615.2 441.0L614.2 452.0M616.1 449.0L614.2 452.0L612.9 448.8M638.2 441.0L637.2 452.0M639.1 449.0L637.2 452.0L635.9 448.8M661.0 441.0L660.4 452.0M662.2 449.0L660.4 452.0L659.0 448.8M165.4 467.5L166.9 464.7M164.2 466.6L166.9 464.7L166.9 468.1M188.4 468.3L189.9 463.8M187.5 466.2L189.9 463.8L190.5 467.2M211.7 467.3L212.7 464.8M210.1 467.1L212.7 464.8L213.0 468.2M233.3 466.8L237.0 465.3M233.7 465.0L237.0 465.3L234.8 467.9M256.5 466.1L259.9 466.1M256.9 464.5L259.9 466.1L256.9 467.6M279.8 466.1L282.6 466.1M279.6 464.5L282.6 466.1L279.6 467.6M302.2 464.5L306.2 467.7M304.8 464.6L306.2 467.7L302.9 467.0M325.5 463.4L328.9 468.7M328.6 465.3L328.9 468.7L326.0 467.0M348.8 462.7L351.6 469.4M351.9 466.0L351.6 469.4L349.0 467.2M372.2 462.0L374.1 470.1M375.0 466.8L374.1 470.1L372.0 467.5M395.6 461.3L396.8 470.9M398.0 467.7L396.8 470.9L394.9 468.1M419.0 460.9L419.4 471.2M420.8 468.1L419.4 471.2L417.8 468.2M442.3 460.8L442.1 471.4M443.7 468.4L442.1 471.4L440.6 468.3M465.6 460.1L464.8 472.0M466.8 468.7L464.8 472.0L463.3 468.5M488.9 459.4L487.5 472.8M489.8 469.2L487.5 472.8L485.9 468.7M512.2 458.9L510.2 473.2M512.8 469.4L510.2 473.2L508.7 468.8M535.1 459.1L533.3 473.0M535.8 469.3L533.3 473.0L531.8 468.8M557.8 459.7L556.6 472.4M558.8 469.0L556.6 472.4L555.1 468.6M580.6 460.1L579.8 472.0M581.8 468.7L579.8 472.0L578.3 468.5M603.5 460.2L603.0 471.9M604.8 468.7L603.0 471.9L601.4 468.5M626.5 460.2L625.9 471.9M627.8 468.7L625.9 471.9L624.4 468.5M649.5 460.2L648.9 471.9M650.8 468.7L648.9 471.9L647.4 468.5M672.5 460.2L671.9 471.9M673.8 468.7L671.9 471.9L670.4 468.5M152.7 485.6L156.7 485.6M153.7 484.1L156.7 485.6L153.7 487.1M175.7 485.6L179.7 485.6M176.7 484.1L179.7 485.6L176.7 487.1M200.7 483.6L200.7 487.6M202.2 484.6L200.7 487.6L199.2 484.6M222.2 483.9L225.2 487.4M224.4 484.0L225.2 487.4L222.1 486.1M245.2 483.9L248.2 487.4M247.4 484.0L248.2 487.4L245.1 486.1M267.9 484.1L271.4 487.1M270.2 484.0L271.4 487.1L268.1 486.3M290.7 483.9L294.7 487.4M293.4 484.2L294.7 487.4L291.4 486.5M314.6 482.5L316.8 488.8M317.3 485.4L316.8 488.8L314.3 486.4M337.9 481.5L339.5 489.7M340.4 486.4L339.5 489.7L337.4 487.0M360.6 480.8L362.8 490.4M363.6 487.1L362.8 490.4L360.6 487.8M383.8 480.4L385.6 490.8M386.6 487.5L385.6 490.8L383.6 488.1M407.3 480.1L408.1 491.1M409.5 487.8L408.1 491.1L406.3 488.1M430.7 479.9L430.7 491.4M432.4 488.1L430.7 491.4L429.0 488.1M453.9 479.4L453.4 491.8M455.4 488.3L453.4 491.8L451.8 488.2M477.4 478.3L476.0 492.9M478.5 488.9L476.0 492.9L474.3 488.5M500.7 478.1L498.7 493.1M501.4 489.1L498.7 493.1L497.1 488.5M523.8 478.1L521.6 493.1M524.4 489.1L521.6 493.1L520.0 488.5M546.2 478.8L545.2 492.5M547.5 488.7L545.2 492.5L543.5 488.4M569.0 479.1L568.5 492.1M570.5 488.5L568.5 492.1L566.7 488.3M591.7 479.4L591.7 491.8M593.5 488.3L591.7 491.8L589.9 488.3M614.7 479.4L614.7 491.8M616.5 488.3L614.7 491.8L612.9 488.3M637.9 479.4L637.6 491.8M639.4 488.3L637.6 491.8L635.8 488.2M661.1 479.4L660.3 491.8M662.3 488.4L660.3 491.8L658.7 488.1M164.5 504.2L167.9 506.1M166.0 503.3L167.9 506.1L164.5 505.9M187.5 504.7L190.9 505.5M188.3 503.3L190.9 505.5L187.6 506.3M210.9 504.5L213.5 505.8M211.5 503.0L213.5 505.8L210.1 505.8M236.6 502.3L233.8 507.9M236.5 505.9L233.8 507.9L233.8 504.5M259.9 504.9L256.5 505.3M259.7 506.5L256.5 505.3L259.3 503.4M281.4 503.7L280.9 506.5M283.0 503.8L280.9 506.5L280.0 503.3M303.2 502.3L305.1 508.0M305.7 504.6L305.1 508.0L302.7 505.6M326.5 501.0L327.9 509.3M328.9 506.0L327.9 509.3L325.9 506.5M349.7 500.1L350.7 510.2M352.0 507.0L350.7 510.2L348.9 507.3M372.8 499.4L373.6 510.8M375.0 507.5L373.6 510.8L371.7 507.7M396.1 498.8L396.3 511.4M398.1 507.8L396.3 511.4L394.4 507.9M419.3 498.3L419.1 511.9M421.1 508.1L419.1 511.9L417.2 508.0M442.4 497.9L442.0 512.4M444.2 508.3L442.0 512.4L440.0 508.2M465.6 497.4L464.8 512.9M467.3 508.6L464.8 512.9L462.8 508.4M488.8 497.0L487.6 513.2M490.3 508.8L487.6 513.2L485.6 508.4M511.8 497.2L510.6 513.1M513.2 508.7L510.6 513.1L508.6 508.4M534.6 497.7L533.8 512.5M536.2 508.4L533.8 512.5L531.9 508.2M557.4 498.1L557.0 512.1M559.1 508.2L557.0 512.1L555.1 508.1M580.3 498.5L580.1 511.8M582.1 508.0L580.1 511.8L578.2 508.0M603.2 499.0L603.2 511.3M605.0 507.8L603.2 511.3L601.4 507.8M626.2 499.1L626.2 511.2M627.9 507.7L626.2 511.2L624.4 507.7M649.3 499.0L649.1 511.2M650.9 507.8L649.1 511.2L647.4 507.7M672.4 499.0L672.0 511.2M673.9 507.8L672.0 511.2L670.3 507.7M156.4 523.4L152.9 525.9M156.3 525.4L152.9 525.9L154.5 522.9M179.4 523.4L175.9 525.9M179.3 525.4L175.9 525.9L177.5 522.9M202.4 523.4L198.9 525.9M202.3 525.4L198.9 525.9L200.5 522.9M225.4 523.2L221.9 526.2M225.3 525.4L221.9 526.2L223.2 523.0M248.2 522.9L245.2 526.4M248.3 525.1L245.2 526.4L246.0 523.1M271.2 522.7L268.2 526.7M271.3 525.2L268.2 526.7L268.8 523.3M292.7 522.2L292.7 527.2M294.2 524.1L292.7 527.2L291.2 524.1M315.0 520.6L316.4 528.8M317.4 525.5L316.4 528.8L314.4 526.0M338.4 519.5L338.9 529.9M340.3 526.8L338.9 529.9L337.3 526.9M361.7 518.7L361.7 530.7M363.4 527.2L361.7 530.7L360.0 527.2M385.1 517.8L384.3 531.5M386.5 527.7L384.3 531.5L382.5 527.5M408.1 517.0L407.3 532.4M409.8 528.1L407.3 532.4L405.3 527.9M430.9 516.4L430.4 532.9M433.0 528.3L430.4 532.9L428.2 528.1M453.9 515.9L453.4 533.5M456.1 528.5L453.4 533.5L451.0 528.4M476.9 515.9L476.4 533.5M479.1 528.5L476.4 533.5L474.0 528.4M500.1 515.9L499.3 533.4M502.1 528.5L499.3 533.4L497.0 528.3M522.7 516.7L522.7 532.7M525.0 528.1L522.7 532.7L520.4 528.1M545.7 517.4L545.7 532.0M547.8 527.8L545.7 532.0L543.6 527.8M568.7 517.4L568.7 532.0M570.8 527.8L568.7 532.0L566.6 527.8M591.7 518.2L591.7 531.2M593.6 527.5L591.7 531.2L589.8 527.5M614.7 518.9L614.7 530.4M616.4 527.1L614.7 530.4L613.0 527.1M637.7 518.7L637.7 530.7M639.4 527.2L637.7 530.7L636.0 527.2M660.7 518.7L660.7 530.7M662.4 527.2L660.7 530.7L659.0 527.2M168.3 543.2L164.1 545.2M167.5 545.3L164.1 545.2L166.2 542.5M191.3 543.1L187.1 545.3M190.5 545.3L187.1 545.3L189.0 542.5M214.4 542.6L210.0 545.8M213.4 545.2L210.0 545.8L211.6 542.7M237.3 541.9L233.1 546.5M236.3 545.3L233.1 546.5L234.0 543.2M260.1 541.1L256.3 547.3M259.2 545.5L256.3 547.3L256.6 543.9M282.8 540.6L279.6 547.8M282.3 545.6L279.6 547.8L279.4 544.4M305.1 539.9L303.3 548.5M305.4 545.9L303.3 548.5L302.4 545.2M327.9 538.8L326.5 549.6M328.5 546.7L326.5 549.6L325.3 546.3M350.9 537.9L349.5 550.4M351.7 547.1L349.5 550.4L348.1 546.7M373.9 537.2L372.5 551.2M375.0 547.4L372.5 551.2L370.9 547.0M396.9 536.3L395.5 552.1M398.2 547.8L395.5 552.1L393.6 547.4M419.8 535.6L418.6 552.8M421.5 548.1L418.6 552.8L416.5 547.7M442.6 535.1L441.8 553.3M444.7 548.2L441.8 553.3L439.4 548.0M465.4 534.7L464.9 553.7M467.8 548.3L464.9 553.7L462.3 548.2M488.4 534.7L488.0 553.7M490.9 548.3L488.0 553.7L485.4 548.2M511.1 535.0L511.3 553.4M513.9 548.1L511.3 553.4L508.6 548.1M534.0 536.3L534.4 552.1M536.6 547.5L534.4 552.1L532.0 547.7M557.0 537.2L557.4 551.2M559.3 547.1L557.4 551.2L555.2 547.2M580.1 537.5L580.3 550.9M582.2 547.0L580.3 550.9L578.3 547.1M603.1 538.1L603.3 550.2M605.0 546.8L603.3 550.2L601.5 546.8M626.1 538.3L626.3 550.0M627.9 546.7L626.3 550.0L624.5 546.7M649.2 538.2L649.2 550.1M650.9 546.7L649.2 550.1L647.5 546.7M672.2 538.2L672.2 550.1M673.9 546.7L672.2 550.1L670.5 546.7M157.2 563.0L152.2 564.5M155.5 565.1L152.2 564.5L154.7 562.1M180.2 563.0L175.2 564.5M178.5 565.1L175.2 564.5L177.7 562.1M203.2 562.5L198.2 565.0M201.6 565.0L198.2 565.0L200.2 562.2M226.4 561.5L220.9 566.0M224.3 565.2L220.9 566.0L222.3 562.9M248.9 560.0L244.4 567.5M247.3 565.7L244.4 567.5L244.7 564.1M271.9 559.0L267.4 568.5M270.1 566.4L267.4 568.5L267.4 565.1M295.2 558.7L290.2 568.7M293.1 566.6L290.2 568.7L290.2 565.1M317.6 558.0L313.8 569.5M316.6 566.7L313.8 569.5L313.2 565.6M340.5 557.2L336.9 570.2M339.8 567.0L336.9 570.2L336.0 566.0M363.1 556.4L360.3 571.0M363.2 567.2L360.3 571.0L359.0 566.5M385.6 555.7L383.8 571.7M386.6 567.4L383.8 571.7L382.0 566.9M408.6 554.8L406.8 572.7M409.9 567.8L406.8 572.7L404.7 567.3M431.4 554.2L430.0 573.2M433.2 568.0L430.0 573.2L427.6 567.6M453.9 553.7L453.4 573.7M456.4 568.3L453.4 573.7L450.8 568.1M476.9 553.4L476.4 574.0M479.4 568.6L476.4 574.0L473.8 568.4M499.6 553.7L499.8 573.7M502.6 568.2L499.8 573.7L496.9 568.2M522.2 553.8L523.2 573.6M525.8 567.9L523.2 573.6L520.1 568.3M545.3 557.2L546.1 570.2M547.8 566.4L546.1 570.2L544.0 566.6M568.5 556.9L569.0 570.6M570.8 566.6L569.0 570.6L566.8 566.7M591.6 557.5L591.9 569.9M593.6 566.3L591.9 569.9L590.0 566.4M614.5 558.0L615.0 569.5M616.5 566.1L615.0 569.5L613.1 566.3M637.7 557.8L637.7 569.6M639.4 566.3L637.7 569.6L636.0 566.3M660.7 557.8L660.7 569.6M662.4 566.3L660.7 569.6L659.0 566.3M168.7 584.1L163.7 582.4M166.0 584.8L163.7 582.4L167.1 581.9M191.6 583.7L186.8 582.8M189.5 584.9L186.8 582.8L190.0 581.8M214.5 582.4L209.9 584.1M213.3 584.5L209.9 584.1L212.2 581.6M237.4 580.8L232.9 585.7M236.1 584.5L232.9 585.7L233.9 582.4M260.5 579.4L255.9 587.1M258.8 585.3L255.9 587.1L256.1 583.7M283.6 578.3L278.8 588.2M281.6 586.1L278.8 588.2L278.7 584.7M306.6 577.4L301.8 589.1M304.9 586.5L301.8 589.1L301.5 585.1M329.6 576.9L324.8 589.6M328.0 586.7L324.8 589.6L324.3 585.3M352.5 576.4L347.9 590.1M351.2 586.9L347.9 590.1L347.2 585.5M375.2 575.7L371.2 590.8M374.6 587.1L371.2 590.8L370.1 585.9M397.8 574.8L394.6 591.7M398.0 587.4L394.6 591.7L393.0 586.4M420.5 574.0L417.9 592.5M421.3 587.6L417.9 592.5L416.0 586.8M443.1 573.5L441.3 593.0M444.6 587.7L441.3 593.0L439.0 587.2M465.5 573.1L464.9 593.4M467.9 587.9L464.9 593.4L462.3 587.8M487.9 573.0L488.5 593.5M491.2 587.9L488.5 593.5L485.5 588.1M510.4 573.2L512.0 593.3M514.4 587.6L512.0 593.3L508.8 588.0M533.4 574.3L535.0 592.2M537.2 586.9L535.0 592.2L531.9 587.3M556.7 576.0L557.7 590.5M559.5 586.2L557.7 590.5L555.3 586.5M579.9 577.2L580.5 589.3M582.1 585.8L580.5 589.3L578.6 585.9M603.0 577.6L603.4 588.9M604.9 585.6L603.4 588.9L601.6 585.7M626.1 577.8L626.3 588.8M627.8 585.6L626.3 588.8L624.7 585.6M649.2 577.8L649.2 588.8M650.8 585.6L649.2 588.8L647.6 585.6M672.3 577.8L672.1 588.8M673.7 585.6L672.1 588.8L670.5 585.6M157.2 605.3L152.2 600.3M153.3 603.5L152.2 600.3L155.4 601.3M180.2 605.3L175.2 600.3M176.3 603.5L175.2 600.3L178.4 601.3M203.0 604.0L198.4 601.5M200.3 604.4L198.4 601.5L201.8 601.7M225.5 601.8L221.9 603.8M225.3 603.6L221.9 603.8L223.8 600.9M248.9 600.0L244.4 605.5M247.6 604.2L244.4 605.5L245.2 602.2M272.2 598.8L267.2 606.8M270.1 605.0L267.2 606.8L267.5 603.4M295.1 596.6L290.3 609.0M293.5 606.1L290.3 609.0L289.9 604.8M318.5 596.1L312.9 609.4M316.4 606.5L312.9 609.4L312.6 604.8M341.7 596.2L335.7 609.3M339.3 606.5L335.7 609.3L335.5 604.7M364.7 595.7L358.7 609.8M362.4 606.7L358.7 609.8L358.3 604.9M387.3 594.8L382.1 610.8M385.9 607.0L382.1 610.8L381.3 605.5M409.7 593.9L405.7 611.7M409.4 607.2L405.7 611.7L404.2 606.0M432.3 593.3L429.1 612.2M432.8 607.3L429.1 612.2L427.3 606.4M454.6 592.9L452.8 612.7M456.1 607.4L452.8 612.7L450.5 606.9M476.5 592.5L476.9 613.1M479.6 607.5L476.9 613.1L474.0 607.6M498.5 592.2L500.9 613.4M503.1 607.6L500.9 613.4L497.5 608.2M521.4 593.0L524.0 612.5M526.1 606.7L524.0 612.5L520.5 607.4M544.8 593.1L546.6 612.5M548.9 606.7L546.6 612.5L543.3 607.3M568.2 596.9L569.2 608.7M570.7 605.2L569.2 608.7L567.2 605.5M591.5 597.6L591.9 608.0M593.3 604.9L591.9 608.0L590.3 605.0M614.6 597.5L614.8 608.0M616.3 605.0L614.8 608.0L613.2 605.0M637.6 597.7L637.8 607.9M639.3 604.8L637.8 607.9L636.2 604.9M660.9 597.7L660.5 607.9M662.1 604.9L660.5 607.9L659.1 604.8" fill="none" stroke="#000" stroke-opacity="0.85" stroke-width="0.7"/></g>
<g fill="none" stroke="#000">
<rect x="154.1" y="72.5" width="530.5" height="530.8" stroke-width="1.25"/>
<path d="M186.7 72.5v14M290 72.5v14M393.6 72.5v14M497 72.5v14M600.3 72.5v14M163.6 603.3v-15M277.4 603.3v-15M390.7 603.3v-15M504.4 603.3v-15M617.6 603.3v-15" stroke-width="1.3"/>
<path d="M154.1 100.5h14M684.6 100.5h-14M154.1 232.4h14M684.6 232.4h-14M154.1 364.5h14M684.6 364.5h-14M154.1 496.2h14M684.6 496.2h-14" stroke-width="1.1"/>
</g>
<rect x="658.5" y="72.5" width="29" height="39" fill="#fff" stroke="#777" stroke-width="1"/>
<path d="M661.5 97.4L684.0 97.4M678.4 94.6L684.0 97.4L678.4 100.2" fill="none" stroke="#000" stroke-width="0.8"/>
<rect x="162.00" y="627.5" width="51.45" height="14" fill="#0000ff" stroke="#000" stroke-opacity="0.75" stroke-width="0.7"/>
<rect x="213.45" y="627.5" width="51.45" height="14" fill="#00a0ff" stroke="#000" stroke-opacity="0.75" stroke-width="0.7"/>
<rect x="264.90" y="627.5" width="51.45" height="14" fill="#00e6b4" stroke="#000" stroke-opacity="0.75" stroke-width="0.7"/>
<rect x="316.35" y="627.5" width="51.45" height="14" fill="#0ab414" stroke="#000" stroke-opacity="0.75" stroke-width="0.7"/>
<rect x="367.80" y="627.5" width="51.45" height="14" fill="#a5e614" stroke="#000" stroke-opacity="0.75" stroke-width="0.7"/>
<rect x="419.25" y="627.5" width="51.45" height="14" fill="#ffe600" stroke="#000" stroke-opacity="0.75" stroke-width="0.7"/>
<rect x="470.70" y="627.5" width="51.45" height="14" fill="#ffa500" stroke="#000" stroke-opacity="0.75" stroke-width="0.7"/>
<rect x="522.15" y="627.5" width="51.45" height="14" fill="#ff3c00" stroke="#000" stroke-opacity="0.75" stroke-width="0.7"/>
<rect x="573.60" y="627.5" width="51.45" height="14" fill="#c80032" stroke="#000" stroke-opacity="0.75" stroke-width="0.7"/>
<rect x="625.05" y="627.5" width="51.45" height="14" fill="#5a0087" stroke="#000" stroke-opacity="0.75" stroke-width="0.7"/>
</svg><svg width="800" height="800" viewBox="0 0 800 800" style="position:absolute;left:0;top:0" font-family="'Liberation Sans',Arial,Helvetica,sans-serif" fill="#000"><text x="312" y="26.5" font-size="14.2" text-anchor="start" font-weight="bold" word-spacing="1.2">2023/2/17/20UTC (14LT), Friday</text>
<text x="312" y="41.8" font-size="14.2" text-anchor="start" font-weight="bold">FV3m0b0l0_GFS025</text>
<text transform="translate(152.6,63.8) scale(0.9885,1)" font-size="24.5" stroke="#000" stroke-width="0.25">instantaneous surface downward shortwave flux</text>
<text transform="translate(686,63.8) scale(0.992,1)" font-size="24.5" text-anchor="end" stroke="#000" stroke-width="0.25">W/m**2</text>
<text x="672.7" y="86.8" font-size="14" text-anchor="middle">8</text>
<text x="145.2" y="237.2" font-size="14" text-anchor="end">36<tspan font-size="17" dy="1.6">°</tspan><tspan dy="-1.6">N</tspan></text>
<text x="145.2" y="501.2" font-size="14" text-anchor="end">32<tspan font-size="17" dy="1.6">°</tspan><tspan dy="-1.6">N</tspan></text>
<text x="163.5" y="624" font-size="14" text-anchor="middle">102<tspan font-size="17" dy="1.6">°</tspan><tspan dy="-1.6">W</tspan></text>
<text x="390.5" y="624" font-size="14" text-anchor="middle">98<tspan font-size="17" dy="1.6">°</tspan><tspan dy="-1.6">W</tspan></text>
<text x="617.5" y="624" font-size="14" text-anchor="middle">94<tspan font-size="17" dy="1.6">°</tspan><tspan dy="-1.6">W</tspan></text>
<text x="199.6" y="619" font-size="14" text-anchor="start" word-spacing="1.3">Min= 626.1 Max= 813</text>
<text x="213.45" y="656.3" font-size="14" text-anchor="middle">640</text>
<text x="316.35" y="656.3" font-size="14" text-anchor="middle">680</text>
<text x="419.25" y="656.3" font-size="14" text-anchor="middle">720</text>
<text x="522.15" y="656.3" font-size="14" text-anchor="middle">760</text>
<text x="625.05" y="656.3" font-size="14" text-anchor="middle">800</text></svg>
</body></html>
